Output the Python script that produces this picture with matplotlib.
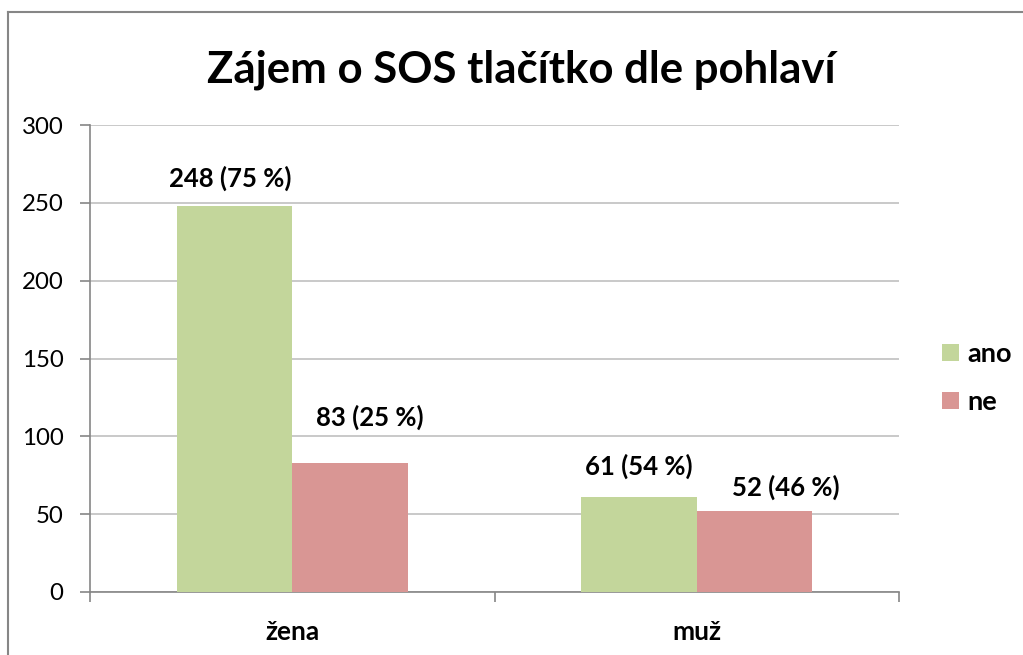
import matplotlib
matplotlib.use("Agg")
import matplotlib.pyplot as plt
import numpy as np
from matplotlib.lines import Line2D
from matplotlib.patches import Patch

plt.rcParams['font.family'] = ['Lato', 'DejaVu Sans']

title = "Zájem o SOS tlačítko dle pohlaví"
categories = ["žena", "muž"]
series_names = ["ano", "ne"]
ano = [248, 61]
ne = [83, 52]
ano_pct = [75, 54]
ne_pct = [25, 46]

GREEN = "#C3D69B"
RED = "#D99694"
GRID = "#C0C0C0"
AXIS = "#868686"

fig = plt.figure(figsize=(10.23, 6.55), dpi=100)
ax = fig.add_axes([90 / 1023, 63 / 655, 809 / 1023, 467 / 655])

x = np.arange(len(categories))
w = 0.285
b1 = ax.bar(x - w / 2, ano, w, color=GREEN, zorder=3, label=series_names[0])
b2 = ax.bar(x + w / 2, ne, w, color=RED, zorder=3, label=series_names[1])

ax.set_xlim(-0.5, len(categories) - 0.5)
ax.set_ylim(0, 300)
ax.set_yticks(range(0, 301, 50))
ax.yaxis.grid(True, color=GRID, linewidth=1.2, zorder=0)
ax.set_axisbelow(True)

# label offsets in pixels (dx, dy above bar top)
offs_ano = [(-4, 28), (0, 31)]
offs_ne = [(20, 45), (31, 24)]
for i in range(len(categories)):
    for bars, vals, pcts, offs in ((b1, ano, ano_pct, offs_ano), (b2, ne, ne_pct, offs_ne)):
        r = bars[i]
        ax.annotate(f"{vals[i]} ({pcts[i]} %)",
                    (r.get_x() + r.get_width() / 2, vals[i]),
                    xytext=(offs[i][0] * 0.72, offs[i][1] * 0.72), textcoords="offset points",
                    ha="center", va="center", fontsize=18.5, fontweight="bold")

for s in ["top", "right"]:
    ax.spines[s].set_visible(False)
for s in ["left", "bottom"]:
    ax.spines[s].set_color(AXIS)
    ax.spines[s].set_linewidth(1.2)

ax.set_xticks(np.arange(len(categories) + 1) - 0.5, minor=False)
ax.set_xticklabels([])
ax.tick_params(axis="x", length=7, color=AXIS, width=1.2, direction="out")
ax.tick_params(axis="y", length=7, color=AXIS, width=1.2, direction="out", labelsize=17.3, pad=12)
for i, c in enumerate(categories):
    ax.text(x[i], -0.085, c, transform=ax.get_xaxis_transform(), ha="center", va="center",
            fontsize=19, fontweight="bold")

fig.text(521 / 1023, 1 - 70 / 655, title, ha="center", va="center", fontsize=31.5, fontweight="bold")

handles = [Patch(facecolor=GREEN, label=series_names[0]), Patch(facecolor=RED, label=series_names[1])]
leg = fig.legend(handles=handles, loc="center left", bbox_to_anchor=(942 / 1023, 1 - 378 / 655),
                 frameon=False, prop={"weight": "bold", "size": 19.5},
                 borderpad=0, borderaxespad=0,
                 handlelength=0.62, handleheight=0.62, handletextpad=0.3, labelspacing=0.9)

# outer chart border (cut by image edges)
fig.add_artist(Line2D([8 / 1023, 8 / 1023], [0, 1 - 12 / 655], color=AXIS, linewidth=1.5))
fig.add_artist(Line2D([8 / 1023, 1], [1 - 12 / 655, 1 - 12 / 655], color=AXIS, linewidth=1.5))

fig.savefig("out.png", dpi=100)
